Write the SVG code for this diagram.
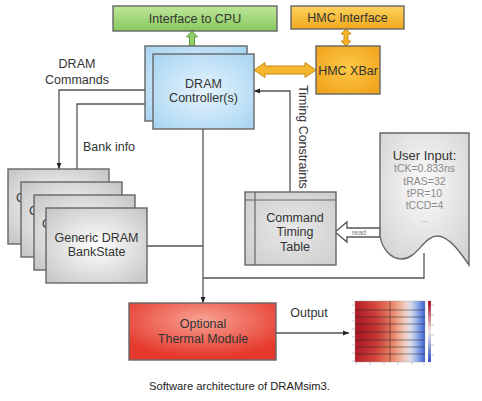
<svg xmlns="http://www.w3.org/2000/svg" width="482" height="401" viewBox="0 0 482 401">
<style>
text{font-family:"Liberation Sans",Arial,sans-serif;fill:#333;}
.lbl{font-size:12.5px;text-anchor:middle;}
.box{stroke:#666;stroke-width:1.4;}
.con{fill:none;stroke:#555;stroke-width:1.3;}
.val{font-size:10.5px;fill:#8a8a8a;text-anchor:middle;}
</style>
<defs>
<linearGradient id="gGreen" x1="0" y1="0" x2="0" y2="1"><stop offset="0" stop-color="#bfe69a"/><stop offset="1" stop-color="#86c95c"/></linearGradient>
<linearGradient id="gOrange" x1="0" y1="0" x2="0" y2="1"><stop offset="0" stop-color="#fcd35e"/><stop offset="1" stop-color="#f2a81c"/></linearGradient>
<radialGradient id="gXbar" cx="0.5" cy="0.45" r="0.7"><stop offset="0" stop-color="#fcc845"/><stop offset="1" stop-color="#f0a11a"/></radialGradient>
<radialGradient id="gBlue" cx="0.5" cy="0.5" r="0.7"><stop offset="0" stop-color="#e6f4fd"/><stop offset="1" stop-color="#a6d4f1"/></radialGradient>
<radialGradient id="gGray" cx="0.5" cy="0.5" r="0.7"><stop offset="0" stop-color="#ffffff"/><stop offset="1" stop-color="#c4c4c4"/></radialGradient>
<radialGradient id="gTable" cx="0.5" cy="0.5" r="0.7"><stop offset="0" stop-color="#e8e8e8"/><stop offset="1" stop-color="#cdcdcd"/></radialGradient>
<radialGradient id="gDoc" cx="0.5" cy="0.4" r="0.75"><stop offset="0" stop-color="#fbfbfb"/><stop offset="1" stop-color="#cfcfcf"/></radialGradient>
<radialGradient id="gRed" cx="0.5" cy="0.3" r="0.65"><stop offset="0" stop-color="#f8a293"/><stop offset="1" stop-color="#e5392c"/></radialGradient>
<linearGradient id="gHeat" x1="0" y1="0" x2="1" y2="0"><stop offset="0" stop-color="#b81f2c"/><stop offset="0.3" stop-color="#d64a3e"/><stop offset="0.55" stop-color="#eb8a6c"/><stop offset="0.72" stop-color="#f3cfc4"/><stop offset="0.8" stop-color="#d6dbef"/><stop offset="0.9" stop-color="#88a4e6"/><stop offset="1" stop-color="#3a5fd2"/></linearGradient>
<radialGradient id="gHeatDark" cx="0.1" cy="0.5" r="0.5"><stop offset="0" stop-color="#9a0c1a" stop-opacity="0.55"/><stop offset="1" stop-color="#9a0c1a" stop-opacity="0"/></radialGradient>
<linearGradient id="gBar" x1="0" y1="0" x2="0" y2="1"><stop offset="0" stop-color="#a50f26"/><stop offset="0.5" stop-color="#f2e6e3"/><stop offset="1" stop-color="#3050c8"/></linearGradient>
<marker id="ah" viewBox="0 0 10 10" refX="10" refY="5" markerWidth="6" markerHeight="6" markerUnits="userSpaceOnUse" orient="auto"><path d="M0,1 L10,5 L0,9 z" fill="#222"/></marker>
</defs>
<rect width="482" height="401" fill="#ffffff"/>

<g id="connectors">
<path class="con" d="M146,90 H59 V169" marker-end="url(#ah)"/>
<path class="con" d="M77,169 V104 H152" marker-end="url(#ah)"/>
<path class="con" d="M290,192 V91 H254" marker-end="url(#ah)"/>
<path class="con" d="M203,129 V303" marker-end="url(#ah)"/>
<path class="con" d="M147,246 H203"/>
<path class="con" d="M424,253 V278 H203"/>
<path class="con" d="M276,333 H349" marker-end="url(#ah)"/>
<polygon points="192,31 197.5,37 194.5,37 194.5,47 197.5,47 192,53 186.5,47 189.5,47 189.5,37 186.5,37" fill="#8fcf63" stroke="#5e9e3e" stroke-width="1"/>
<polygon points="346,29 351,34 348,34 348,41 351,41 346,46 341,41 344,41 344,34 341,34" fill="#f5b42a" stroke="#c98b12" stroke-width="1"/>
<polygon points="254,70 265,62.5 265,66 305,66 305,62.5 316,70 305,77.5 305,74 265,74 265,77.5" fill="#f6b630" stroke="#c98b12" stroke-width="1"/>
<polygon points="335,232 347,222 347,228 380,228 380,237 347,237 347,242" fill="#ffffff" stroke="#555" stroke-width="1.3"/>
<text x="359" y="235" style="font-size:7px;fill:#777;text-anchor:middle">read</text>
</g>

<g id="labels">
<text class="lbl" x="77" y="67.5">DRAM</text>
<text class="lbl" x="77" y="83.5">Commands</text>
<text class="lbl" x="109" y="150.5">Bank info</text>
<text class="lbl" transform="translate(298.6,137) rotate(90)">Timing Constraints</text>
<text class="lbl" x="309" y="316.5">Output</text>
</g>

<g id="iface-cpu">
<rect class="box" x="113" y="6" width="164" height="25" fill="url(#gGreen)" stroke="#6aa84f"/>
<text class="lbl" x="195" y="22.5">Interface to CPU</text>
</g>

<g id="hmc-iface">
<rect class="box" x="291" y="6" width="113" height="23" fill="url(#gOrange)" stroke="#c98b12"/>
<text class="lbl" x="347.5" y="22">HMC Interface</text>
</g>

<g id="hmc-xbar">
<rect class="box" x="316" y="46" width="64" height="48" fill="url(#gXbar)" stroke="#c98b12"/>
<text class="lbl" x="348" y="74.5">HMC XBar</text>
</g>

<g id="controller">
<rect class="box" x="145" y="46" width="102" height="75" fill="url(#gBlue)"/>
<rect class="box" x="153" y="54" width="101" height="75" fill="url(#gBlue)"/>
<text class="lbl" x="203.5" y="87.5">DRAM</text>
<text class="lbl" x="203.5" y="101.5">Controller(s)</text>
</g>

<g id="bankstate-1">
<rect class="box" x="8" y="169" width="101" height="75" fill="url(#gGray)"/>
<text x="16" y="202" style="font-size:12.5px">G</text>
</g>
<g id="bankstate-2">
<rect class="box" x="21" y="182" width="101" height="75" fill="url(#gGray)"/>
<text x="29" y="215" style="font-size:12.5px">G</text>
</g>
<g id="bankstate-3">
<rect class="box" x="34" y="195" width="101" height="75" fill="url(#gGray)"/>
<text x="42" y="228" style="font-size:12.5px">G</text>
</g>
<g id="bankstate-4">
<rect class="box" x="46" y="208" width="101" height="75" fill="url(#gGray)"/>
<text class="lbl" x="96.5" y="241.5">Generic DRAM</text>
<text class="lbl" x="96.5" y="255.5">BankState</text>
</g>

<g id="timing-table">
<rect class="box" x="245" y="192" width="91" height="73" fill="url(#gTable)"/>
<path d="M255,192 V265 M245,200 H336" stroke="#666" stroke-width="1.2" fill="none"/>
<text class="lbl" x="295" y="221.5">Command</text>
<text class="lbl" x="295" y="236">Timing</text>
<text class="lbl" x="295" y="251">Table</text>
</g>

<g id="user-input">
<path class="box" d="M380,133 H469 V265 C460,252 449,236 437,236 C424,236 417,259 402,259 C390,259 382,248 380,236 Z" fill="url(#gDoc)"/>
<text class="lbl" x="424.5" y="159.5" style="font-size:13px">User Input:</text>
<text class="val" x="424.5" y="172">tCK=0.833ns</text>
<text class="val" x="424.5" y="185">tRAS=32</text>
<text class="val" x="424.5" y="197">tPR=10</text>
<text class="val" x="424.5" y="209">tCCD=4</text>
<text class="val" x="424.5" y="222" style="font-size:8px">...</text>
</g>

<g id="thermal">
<rect class="box" x="129" y="303" width="147" height="57" fill="url(#gRed)"/>
<text class="lbl" x="203" y="327.5">Optional</text>
<text class="lbl" x="203" y="342.5">Thermal Module</text>
</g>

<g id="heatmap">
<rect x="355" y="301" width="70" height="61" fill="url(#gHeat)"/>
<rect x="355" y="301" width="70" height="61" fill="url(#gHeatDark)"/>
<path d="M355,310 H425 M355,317 H425 M355,324 H425 M355,332 H425 M355,340 H425 M355,347 H425 M355,354 H425 M390,301 V362" stroke="#2a2a2a" stroke-opacity="0.6" stroke-width="0.9" fill="none"/>
<rect x="355" y="301" width="70" height="61" fill="none" stroke="#999" stroke-width="0.4"/>
<rect x="428" y="301" width="3" height="61" fill="url(#gBar)"/>
<path d="M352,305 H355 M352,313 H355 M352,321 H355 M352,329 H355 M352,337 H355 M352,345 H355 M352,353 H355 M352,361 H355 M356,362 V365 M370,362 V365 M384,362 V365 M398,362 V365 M412,362 V365 M424,362 V365 M431,305 H434 M431,315 H434 M431,325 H434 M431,335 H434 M431,345 H434 M431,355 H434" stroke="#aaa" stroke-width="0.6" fill="none"/>
</g>

<g id="caption">
<text x="239.5" y="390" style="font-size:11.2px;text-anchor:middle;fill:#222">Software architecture of DRAMsim3.</text>
</g>
</svg>
